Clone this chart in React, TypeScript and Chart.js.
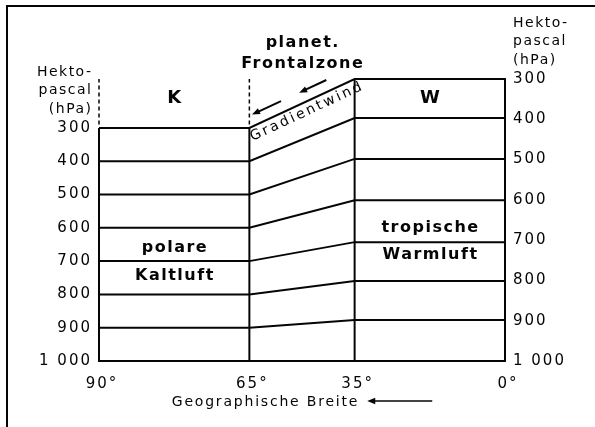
import React, { useEffect, useRef } from 'react';
import { Chart, registerables } from 'chart.js';

Chart.register(...registerables);

// ---- data ----
const latitudeLabels = ['90°', '65°', '35°', '0°'];
// schematic distance of each latitude along the (non-uniform) x axis
const latitudePositions = [0, 10, 17, 27];
const isobars = [300, 400, 500, 600, 700, 800, 900];
// height of each isobar (1 unit = 100 hPa of the cold column)
const coldHeights = [7, 6, 5, 4, 3, 2, 1];
const warmHeights = [8.47, 7.3, 6.07, 4.83, 3.57, 2.4, 1.23];
const pressureTicks = [300, 400, 500, 600, 700, 800, 900, 1000];
const pressureLabels = ['300', '400', '500', '600', '700', '800', '900', '1 000'];
const axisHeader = ['Hekto-', 'pascal', '(hPa)'];

const ink = '#050505';
const FONT = '"DejaVu Sans", "Liberation Sans", Arial, sans-serif';
const TICK_SPACING = '2px';
const topHeight = warmHeights[0];

function drawText(
  ctx: CanvasRenderingContext2D,
  s: string,
  x: number,
  y: number,
  size: number,
  bold: boolean,
  spacing: number,
  align: CanvasTextAlign = 'center'
) {
  ctx.save();
  ctx.font = `${bold ? 'bold ' : ''}${size}px ${FONT}`;
  (ctx as any).letterSpacing = spacing + 'px';
  ctx.textAlign = align;
  ctx.textBaseline = 'middle';
  ctx.fillStyle = ink;
  const dx = align === 'center' ? spacing / 2 : align === 'right' ? spacing : 0;
  ctx.fillText(s, x + dx, y);
  ctx.restore();
}

function arrow(ctx: CanvasRenderingContext2D, x1: number, y1: number, x2: number, y2: number, head: number, lw: number) {
  // arrow from (x1,y1) (tail) to (x2,y2) (head)
  const a = Math.atan2(y2 - y1, x2 - x1);
  ctx.save();
  ctx.strokeStyle = ink;
  ctx.fillStyle = ink;
  ctx.lineWidth = lw;
  ctx.beginPath();
  ctx.moveTo(x1, y1);
  ctx.lineTo(x2 - Math.cos(a) * head * 0.6, y2 - Math.sin(a) * head * 0.6);
  ctx.stroke();
  ctx.beginPath();
  ctx.moveTo(x2, y2);
  ctx.lineTo(x2 - Math.cos(a) * head + Math.sin(a) * head * 0.4, y2 - Math.sin(a) * head - Math.cos(a) * head * 0.4);
  ctx.lineTo(x2 - Math.cos(a) * head - Math.sin(a) * head * 0.4, y2 - Math.sin(a) * head + Math.cos(a) * head * 0.4);
  ctx.closePath();
  ctx.fill();
  ctx.restore();
}

const annotate = {
  id: 'annotate',
  beforeUpdate(chart: any) {
    chart.ctx.letterSpacing = TICK_SPACING;
  },
  beforeDraw(chart: any) {
    const c = chart.ctx as CanvasRenderingContext2D;
    c.save();
    c.fillStyle = '#ffffff';
    c.fillRect(0, 0, chart.width, chart.height);
    c.restore();
    (c as any).letterSpacing = TICK_SPACING;
  },
  afterDraw(chart: any) {
    const ctx = chart.ctx as CanvasRenderingContext2D;
    const xs = chart.scales.x;
    const hs = chart.scales.h;
    const yL = chart.scales.yL;
    const yR = chart.scales.yR;
    const area = chart.chartArea;
    const X = (v: number) => xs.getPixelForValue(v);
    const H = (v: number) => hs.getPixelForValue(v);
    const coldMid = (latitudePositions[0] + latitudePositions[1]) / 2;
    const frontMid = (latitudePositions[1] + latitudePositions[2]) / 2;
    const warmMid = (latitudePositions[2] + latitudePositions[3]) / 2;

    // frame (scan border)
    ctx.save();
    ctx.strokeStyle = ink;
    ctx.lineWidth = 2;
    ctx.beginPath();
    ctx.moveTo(chart.width, 6);
    ctx.lineTo(7, 6);
    ctx.lineTo(7, chart.height);
    ctx.stroke();
    ctx.restore();

    // axis headers
    const offs = [-56, -37.5, -19];
    const pL = yL.getPixelForValue(300);
    const pR = yR.getPixelForValue(300);
    axisHeader.forEach((t, i) => {
      drawText(ctx, t, area.left - 8, pL + offs[i], 14, false, 1.5, 'right');
      drawText(ctx, t, area.right + 8, pR + offs[i], 14, false, 1.5, 'left');
    });

    // region labels
    drawText(ctx, 'K', X(coldMid), H(7.9), 18, true, 0);
    drawText(ctx, 'W', X(warmMid), H(7.9), 18, true, 0);
    drawText(ctx, 'polare', X(coldMid), H(3.4), 16, true, 1.5);
    drawText(ctx, 'Kaltluft', X(coldMid), H(2.55), 16, true, 1.5);
    drawText(ctx, 'tropische', X(warmMid), H(4.0), 16, true, 1.5);
    drawText(ctx, 'Warmluft', X(warmMid), H(3.18), 16, true, 1.5);
    drawText(ctx, 'planet.', X(frontMid), area.top - 36, 16, true, 1.5);
    drawText(ctx, 'Frontalzone', X(frontMid), area.top - 15, 16, true, 1.5);

    // Gradientwind along the sloping 300 hPa surface
    const p1 = { x: X(latitudePositions[1]), y: H(coldHeights[0]) };
    const p2 = { x: X(latitudePositions[2]), y: H(warmHeights[0]) };
    const ang = Math.atan2(p2.y - p1.y, p2.x - p1.x);
    const len = Math.hypot(p2.x - p1.x, p2.y - p1.y);
    ctx.save();
    ctx.translate(p1.x, p1.y);
    ctx.rotate(ang);
    drawText(ctx, 'Gradientwind', len / 2, 9.5, 14, false, 2.5);
    arrow(ctx, 40, -11, 8, -11, 8, 2);
    arrow(ctx, 90, -11, 60, -11, 8, 2);
    ctx.restore();

    // x axis title with arrow
    ctx.save();
    ctx.font = `14px ${FONT}`;
    (ctx as any).letterSpacing = '1.8px';
    const title = 'Geographische Breite';
    const tw = ctx.measureText(title).width;
    ctx.restore();
    const arrowLen = 65;
    const gap = 8;
    const total = tw + gap + arrowLen;
    const cx = (area.left + area.right) / 2;
    const sx = cx - total / 2;
    const ty = area.bottom + 41;
    drawText(ctx, title, sx, ty, 14, false, 1.8, 'left');
    arrow(ctx, sx + tw + gap + arrowLen, ty - 1, sx + tw + gap, ty - 1, 8, 1.5);
  },
};

const lineStyle = {
  borderColor: ink,
  borderWidth: 2,
  pointRadius: 0,
  pointHoverRadius: 0,
  tension: 0,
  fill: false,
  clip: false as const,
  yAxisID: 'h',
  xAxisID: 'x',
  borderJoinStyle: 'miter' as const,
};

const isobarSets = isobars.map((p, i) => ({
  ...lineStyle,
  label: `${p} hPa`,
  data: [
    { x: latitudePositions[0], y: coldHeights[i] },
    { x: latitudePositions[1], y: coldHeights[i] },
    { x: latitudePositions[2], y: warmHeights[i] },
    { x: latitudePositions[3], y: warmHeights[i] },
  ],
}));

const verticalSets = [
  {
    ...lineStyle,
    label: '90° solid',
    data: [{ x: latitudePositions[0], y: 0 }, { x: latitudePositions[0], y: coldHeights[0] }],
  },
  {
    ...lineStyle,
    label: '90° dashed',
    borderWidth: 1.5,
    borderDash: [4, 3],
    data: [{ x: latitudePositions[0], y: coldHeights[0] + 0.1 }, { x: latitudePositions[0], y: topHeight }],
  },
  {
    ...lineStyle,
    label: '65° solid',
    data: [{ x: latitudePositions[1], y: 0 }, { x: latitudePositions[1], y: coldHeights[0] }],
  },
  {
    ...lineStyle,
    label: '65° dashed',
    borderWidth: 1.5,
    borderDash: [4, 3],
    data: [{ x: latitudePositions[1], y: coldHeights[0] + 0.1 }, { x: latitudePositions[1], y: topHeight }],
  },
  {
    ...lineStyle,
    label: '35° solid',
    data: [{ x: latitudePositions[2], y: 0 }, { x: latitudePositions[2], y: topHeight }],
  },
];

export default function App() {
  const ref = useRef<HTMLCanvasElement>(null);
  useEffect(() => {
    if (!ref.current) return;
    const chart = new Chart(ref.current, {
      type: 'line',
      data: { datasets: [...isobarSets, ...verticalSets] as any },
      plugins: [annotate as any],
      options: {
        animation: false,
        responsive: false,
        devicePixelRatio: 1,
        events: [],
        layout: { padding: { left: 39, right: 30, top: 79, bottom: 26 } },
        plugins: { legend: { display: false }, tooltip: { enabled: false } },
        scales: {
          x: {
            type: 'linear',
            position: 'bottom',
            min: latitudePositions[0],
            max: latitudePositions[3],
            afterBuildTicks: (s: any) => {
              s.ticks = latitudePositions.map((v) => ({ value: v }));
            },
            afterFit: (s: any) => {
              s.height = 40;
            },
            grid: { display: false, drawTicks: false },
            border: { display: true, color: ink, width: 2 },
            ticks: {
              autoSkip: false,
              maxRotation: 0,
              padding: 14,
              labelOffset: 3,
              color: ink,
              font: { family: FONT, size: 15 },
              callback: (_v: any, i: number) => latitudeLabels[i],
            },
          },
          h: { type: 'linear', display: false, min: 0, max: topHeight },
          yL: {
            type: 'linear',
            position: 'left',
            reverse: true,
            min: 1000 - 100 * topHeight,
            max: 1000,
            afterBuildTicks: (s: any) => {
              s.ticks = pressureTicks.map((v) => ({ value: v }));
            },
            afterFit: (s: any) => {
              s.width = 60;
            },
            grid: { display: false, drawTicks: false },
            border: { display: false },
            ticks: {
              autoSkip: false,
              padding: 7,
              color: ink,
              font: { family: FONT, size: 15 },
              callback: (_v: any, i: number) => pressureLabels[i],
            },
          },
          yR: {
            type: 'linear',
            position: 'right',
            reverse: true,
            min: 300,
            max: 1000,
            afterBuildTicks: (s: any) => {
              s.ticks = pressureTicks.map((v) => ({ value: v }));
            },
            afterFit: (s: any) => {
              s.width = 60;
            },
            grid: { display: false, drawTicks: false },
            border: { display: true, color: ink, width: 2 },
            ticks: {
              autoSkip: false,
              padding: 8,
              color: ink,
              font: { family: FONT, size: 15 },
              callback: (_v: any, i: number) => pressureLabels[i],
            },
          },
        },
      } as any,
    });
    return () => chart.destroy();
  }, []);
  return (
    <div style={{ position: 'fixed', left: 0, top: 0, width: 595, height: 427, background: '#fff' }}>
      <canvas ref={ref} width={595} height={427} style={{ display: 'block' }} />
    </div>
  );
}
